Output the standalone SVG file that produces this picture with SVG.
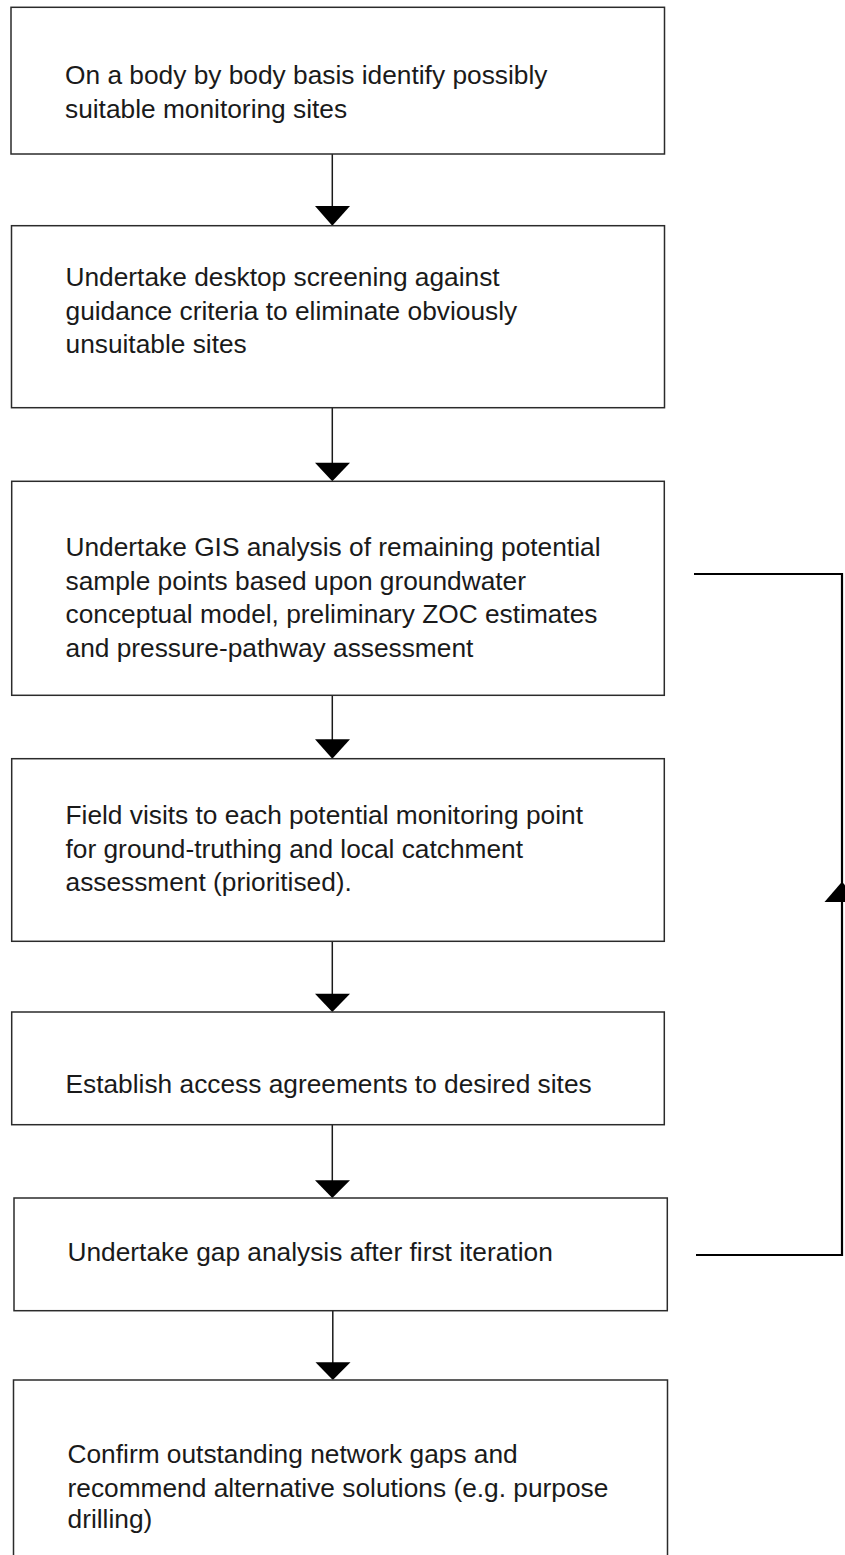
<svg xmlns="http://www.w3.org/2000/svg" width="845" height="1555" viewBox="0 0 845 1555">
<style>
.box{fill:#fff;stroke:#2b2b2b;stroke-width:1.5}
.t{font-family:"Liberation Sans",Arial,sans-serif;font-size:26.3px;fill:#1a1a1a}
.c{stroke:#1a1a1a;stroke-width:1.5;fill:none}
.fb{stroke:#000;stroke-width:2.2;fill:none}
.ah{fill:#000}
</style>
<rect width="845" height="1555" fill="#fff"/>
<g id="connectors">
<line class="c" x1="332.3" y1="154" x2="332.3" y2="208"/>
<polygon class="ah" points="315,206 350,206 332.3,225.7"/>
<line class="c" x1="332.3" y1="407.7" x2="332.3" y2="464"/>
<polygon class="ah" points="315,462.7 350,462.7 332.3,481.3"/>
<line class="c" x1="332.3" y1="695.3" x2="332.3" y2="741"/>
<polygon class="ah" points="315,739.3 350,739.3 332.3,758.7"/>
<line class="c" x1="332.3" y1="941.3" x2="332.3" y2="995"/>
<polygon class="ah" points="315,993.7 350,993.7 332.3,1012"/>
<line class="c" x1="332.3" y1="1124.7" x2="332.3" y2="1182"/>
<polygon class="ah" points="315,1180.3 350,1180.3 332.3,1198"/>
<line class="c" x1="332.8" y1="1310.7" x2="332.8" y2="1364"/>
<polygon class="ah" points="315.5,1362.3 350.5,1362.3 332.8,1380"/>
<polyline class="fb" points="696,1255 842,1255 842,574 694,574"/>
<polygon class="ah" points="842,881.7 824.5,902 859.5,902"/>
</g>
<g id="node1">
<rect class="box" x="11" y="7.3" width="653.5" height="146.7"/>
<text class="t" x="65" y="84">On a body by body basis identify possibly</text>
<text class="t" x="65" y="118">suitable monitoring sites</text>
</g>
<g id="node2">
<rect class="box" x="11.5" y="225.7" width="653" height="182"/>
<text class="t" x="65.5" y="286">Undertake desktop screening against</text>
<text class="t" x="65.5" y="319.5">guidance criteria to eliminate obviously</text>
<text class="t" x="65.5" y="353">unsuitable sites</text>
</g>
<g id="node3">
<rect class="box" x="11.7" y="481.3" width="652.6" height="214"/>
<text class="t" x="65.5" y="556">Undertake GIS analysis of remaining potential</text>
<text class="t" x="65.5" y="589.5">sample points based upon groundwater</text>
<text class="t" x="65.5" y="623">conceptual model, preliminary ZOC estimates</text>
<text class="t" x="65.5" y="656.5">and pressure-pathway assessment</text>
</g>
<g id="node4">
<rect class="box" x="11.7" y="758.7" width="652.6" height="182.6"/>
<text class="t" x="65.5" y="824.3">Field visits to each potential monitoring point</text>
<text class="t" x="65.5" y="858">for ground-truthing and local catchment</text>
<text class="t" x="65.5" y="891">assessment (prioritised).</text>
</g>
<g id="node5">
<rect class="box" x="11.7" y="1012" width="652.6" height="112.7"/>
<text class="t" x="65.5" y="1093">Establish access agreements to desired sites</text>
</g>
<g id="node6">
<rect class="box" x="14" y="1198" width="653.3" height="112.7"/>
<text class="t" x="67.5" y="1260.7">Undertake gap analysis after first iteration</text>
</g>
<g id="node7">
<rect class="box" x="13.5" y="1380" width="654" height="200"/>
<text class="t" x="67.5" y="1463.3">Confirm outstanding network gaps and</text>
<text class="t" x="67.5" y="1497">recommend alternative solutions (e.g. purpose</text>
<text class="t" x="67.5" y="1528">drilling)</text>
</g>
</svg>
